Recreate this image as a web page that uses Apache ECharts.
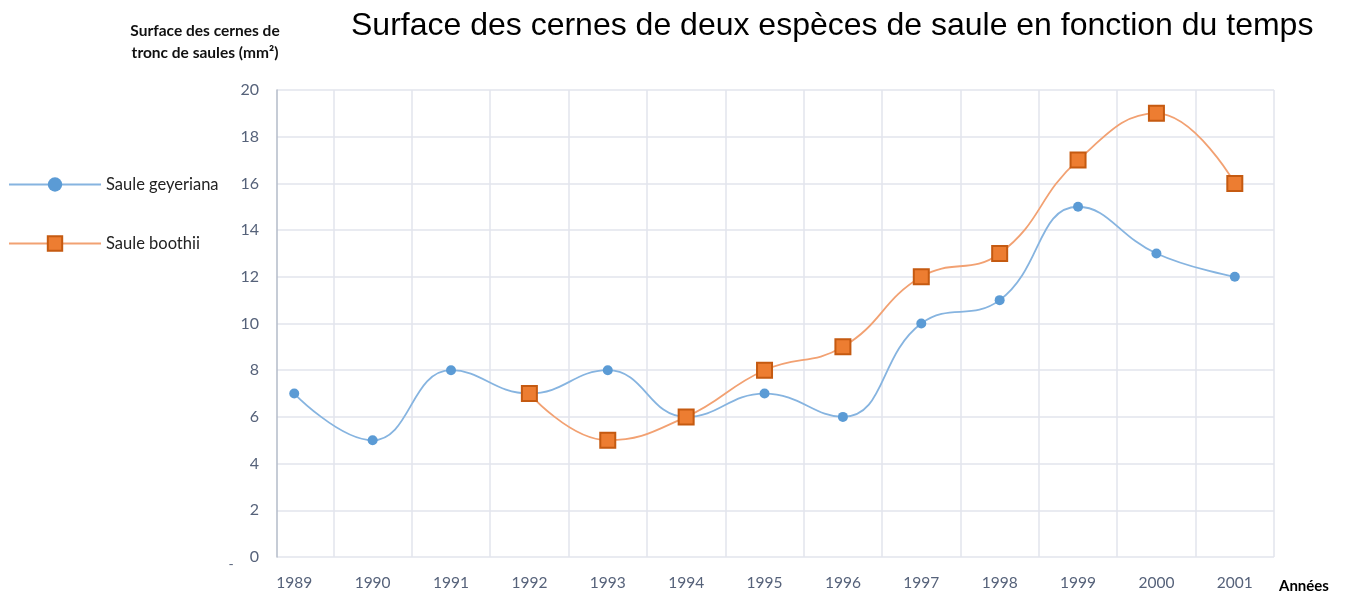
<!DOCTYPE html>
<html>
<head>
<meta charset="utf-8">
<title>Surface des cernes</title>
<script src="https://cdn.jsdelivr.net/npm/echarts@6/dist/echarts.min.js"></script>
<style>
  html, body { margin: 0; padding: 0; background: #fff; }
  #chart { width: 1348px; height: 592px; }
</style>
</head>
<body>
<div id="chart"></div>
<script>
// années (axe x)
const years = [1989, 1990, 1991, 1992, 1993, 1994, 1995, 1996, 1997, 1998, 1999, 2000, 2001];
// limites des colonnes de la grille
const bandEdges = [1989.5, 1990.5, 1991.5, 1992.5, 1993.5, 1994.5, 1995.5, 1996.5, 1997.5, 1998.5, 1999.5, 2000.5, 2001.5];
// surface des cernes (mm²)
const geyeriana = [7, 5, 8, 7, 8, 6, 7, 6, 10, 11, 15, 13, 12];
const boothii = [null, null, null, 7, 5, 6, 8, 9, 12, 13, 17, 19, 16];

const pairs = (vals) => years.map((y, i) => [y, vals[i]]).filter(p => p[1] !== null);

const chart = echarts.init(document.getElementById('chart'));

const axisColor = '#56627A';

const option = {
  animation: false,
  backgroundColor: '#fff',
  title: [
    {
      text: 'Surface des cernes de deux espèces de saule en fonction du temps',
      left: 346,
      top: 5,
      textStyle: { fontFamily: 'Liberation Sans', fontSize: 32, fontWeight: 'normal', color: '#000' }
    },
    {
      text: 'Surface des cernes de\ntronc de saules (mm²)',
      left: 200,
      top: 15,
      textAlign: 'center',
      textStyle: { fontFamily: 'Lato', fontSize: 15.5, fontWeight: 'bold', color: '#111', lineHeight: 22 }
    },
    {
      text: 'Années',
      left: 1274,
      top: 574,
      textStyle: { fontFamily: 'Lato', fontSize: 15, fontWeight: 'bold', color: '#000' }
    }
  ],
  legend: {
    orient: 'vertical',
    left: 3,
    top: 171,
    itemWidth: 92,
    itemHeight: 18,
    itemGap: 42,
    textStyle: { fontFamily: 'Lato', fontSize: 16.5, color: '#222' },
    data: ['Saule geyeriana', 'Saule boothii']
  },
  grid: { left: 277, right: 74, top: 90, bottom: 35 },
  xAxis: {
    type: 'value',
    min: 1988.78,
    max: 2001.5,
    axisLine: { show: false },
    axisTick: { show: false, customValues: bandEdges },
    splitLine: { show: true, lineStyle: { color: '#E2E5EC', width: 1.5 } },
    axisLabel: {
      customValues: years,
      formatter: (v) => String(Math.round(v)),
      margin: 18,
      fontFamily: 'Lato',
      fontSize: 15.5,
      color: axisColor
    }
  },
  yAxis: {
    type: 'value',
    min: 0,
    max: 20,
    interval: 2,
    axisLine: { show: true, lineStyle: { color: '#B3BBC9', width: 1.5 } },
    axisTick: { show: false },
    splitLine: { lineStyle: { color: '#E2E5EC', width: 1.5 } },
    axisLabel: {
      margin: 18,
      fontFamily: 'Lato',
      fontSize: 16,
      color: axisColor,
      formatter: (v) => v === 0 ? '{d|-}{z|0}' : String(v),
      rich: {
        d: { fontFamily: 'Lato', fontSize: 14, color: axisColor, padding: [14, 16, 0, 0] },
        z: { fontFamily: 'Lato', fontSize: 16, color: axisColor }
      }
    }
  },
  series: [
    {
      name: 'Saule geyeriana',
      type: 'line',
      data: pairs(geyeriana),
      smooth: 0.45,
      symbol: 'circle',
      symbolSize: 10,
      itemStyle: { color: '#5B9BD5' },
      lineStyle: { color: '#86B4E0', width: 1.8 },
      z: 2
    },
    {
      name: 'Saule boothii',
      type: 'line',
      data: pairs(boothii),
      smooth: 0.45,
      symbol: 'rect',
      symbolSize: 15,
      itemStyle: { color: '#ED7D31', borderColor: '#C55A11', borderWidth: 2 },
      lineStyle: { color: '#F2A172', width: 1.8 },
      z: 3
    }
  ]
};

chart.setOption(option);
</script>
</body>
</html>
